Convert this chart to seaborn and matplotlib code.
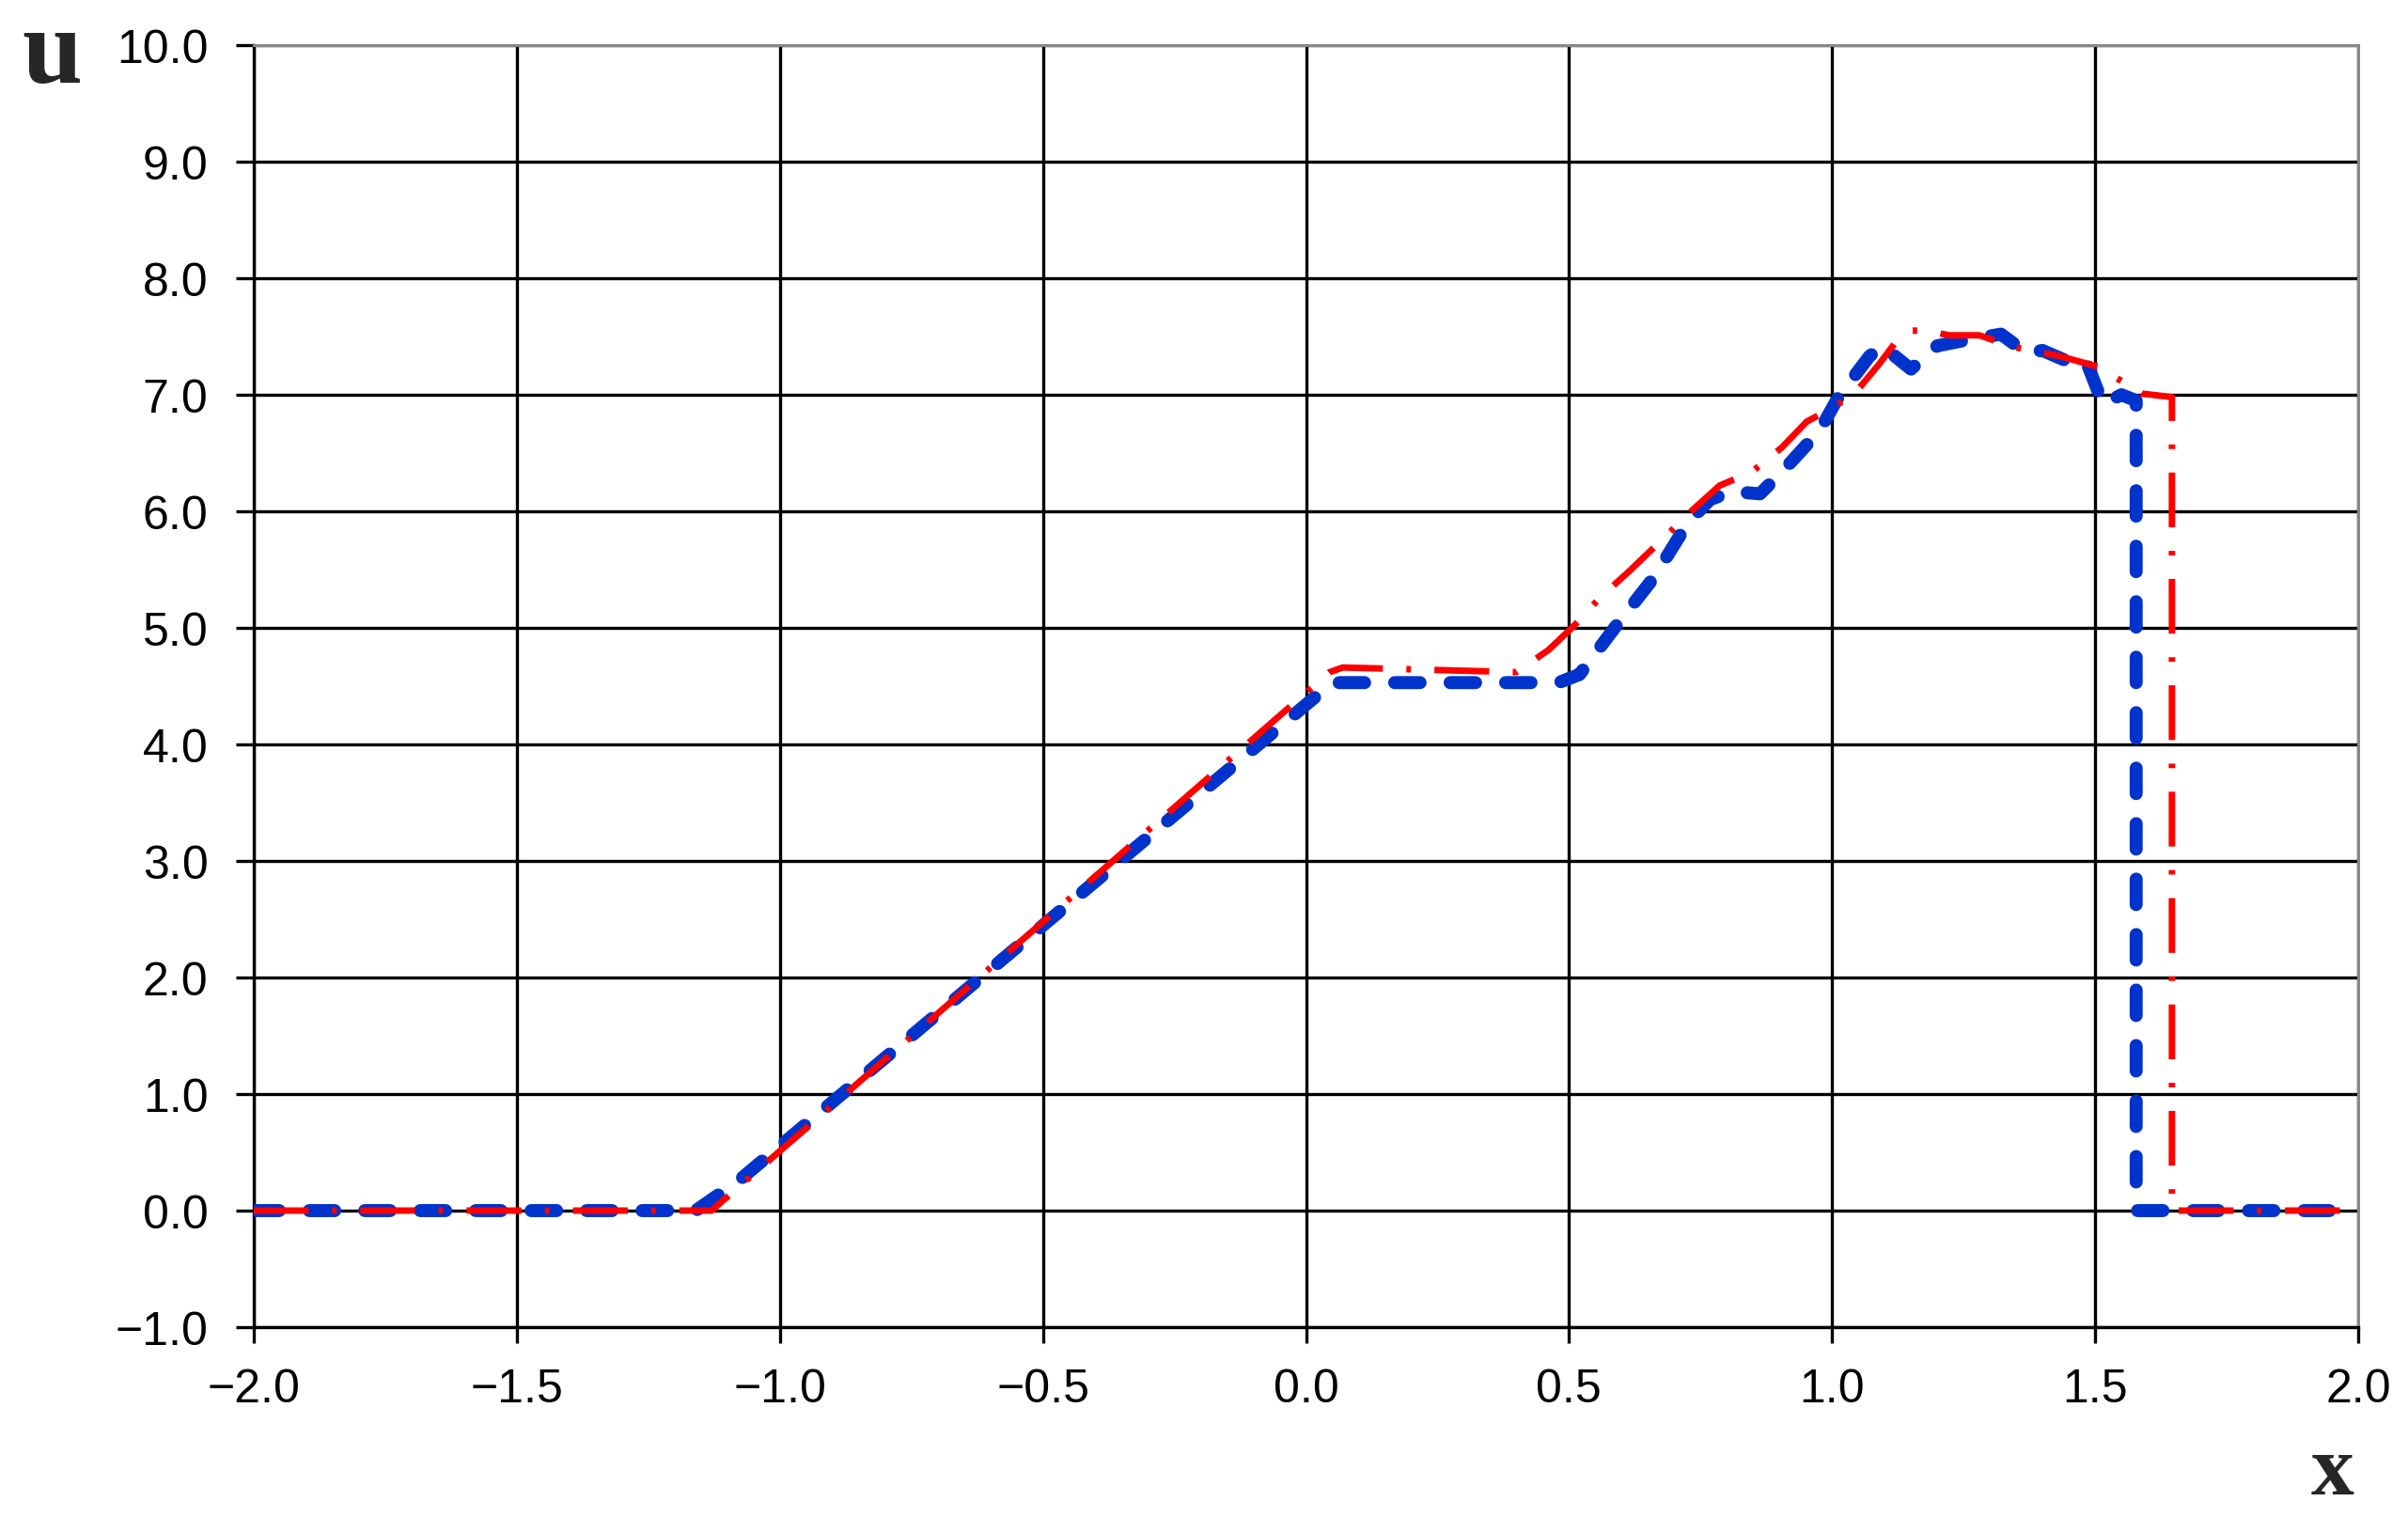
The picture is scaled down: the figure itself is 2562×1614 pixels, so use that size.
import matplotlib
matplotlib.use("Agg")
import matplotlib.pyplot as plt
from matplotlib.ticker import FixedLocator, FixedFormatter
import pandas as pd
import seaborn as sns

# numerical solution (blue, thick dashed)
x_num = [-2.0, -1.16, -1.08, 0.05, 0.48, 0.52, 0.595, 0.661, 0.727, 0.768,
         0.809, 0.863, 0.905, 0.976, 1.012, 1.071, 1.095, 1.15, 1.20, 1.256,
         1.321, 1.369, 1.40, 1.446, 1.482, 1.515, 1.55, 1.578, 1.578, 2.0]
u_num = [0.0, 0.0, 0.25, 4.53, 4.53, 4.60, 5.05, 5.43, 5.91, 6.10,
         6.17, 6.15, 6.34, 6.69, 6.98, 7.33, 7.42, 7.22, 7.42, 7.47,
         7.52, 7.36, 7.38, 7.29, 7.30, 6.92, 7.00, 6.95, 0.0, 0.0]

# reference solution (red, dash-dot)
x_ref = [-2.0, -1.13, 0.045, 0.07, 0.40, 0.461, 0.51, 0.559, 0.613, 0.68,
         0.732, 0.786, 0.848, 0.905, 0.952, 0.985, 1.041, 1.089, 1.119, 1.149,
         1.179, 1.223, 1.28, 1.345, 1.434, 1.506, 1.589, 1.646, 1.646, 2.0]
u_ref = [0.0, 0.0, 4.62, 4.66, 4.62, 4.81, 5.02, 5.26, 5.48, 5.77,
         6.00, 6.22, 6.34, 6.55, 6.77, 6.85, 7.00, 7.26, 7.44, 7.55,
         7.55, 7.51, 7.51, 7.41, 7.33, 7.24, 7.01, 6.98, 0.0, 0.0]

x_ticks = [-2.0, -1.5, -1.0, -0.5, 0.0, 0.5, 1.0, 1.5, 2.0]
y_ticks = [-1.0, 0.0, 1.0, 2.0, 3.0, 4.0, 5.0, 6.0, 7.0, 8.0, 9.0, 10.0]
x_labels = ["\u22122.0", "\u22121.5", "\u22121.0", "\u22120.5", "0.0", "0.5", "1.0", "1.5", "2.0"]
y_labels = ["\u22121.0", "0.0", "1.0", "2.0", "3.0", "4.0", "5.0", "6.0", "7.0", "8.0", "9.0", "10.0"]

sns.set_theme(style="ticks")
plt.rcParams["font.family"] = ["Liberation Sans", "DejaVu Sans"]

fig = plt.figure(figsize=(25.62, 16.15), dpi=100)
ax = fig.add_axes([0.10539, 0.12508, 0.97931 - 0.10539, 0.96966 - 0.12508])

df_num = pd.DataFrame({"x": x_num, "u": u_num})
df_ref = pd.DataFrame({"x": x_ref, "u": u_ref})

sns.lineplot(data=df_num, x="x", y="u", sort=False, estimator=None, ax=ax,
             color="#0033cc", linewidth=10, linestyle=(0, (1.95, 2.3)),
             dash_capstyle="round", zorder=3)
sns.lineplot(data=df_ref, x="x", y="u", sort=False, estimator=None, ax=ax,
             color="#ff0000", linewidth=5, linestyle=(0, (8.4, 3.6, 0.7, 3.6)),
             zorder=4)

ax.set_xlim(-2.0, 2.0)
ax.set_ylim(-1.0, 10.0)
ax.xaxis.set_major_locator(FixedLocator(x_ticks))
ax.xaxis.set_major_formatter(FixedFormatter(x_labels))
ax.yaxis.set_major_locator(FixedLocator(y_ticks))
ax.yaxis.set_major_formatter(FixedFormatter(y_labels))
ax.set_xlabel("")
ax.set_ylabel("")

ax.grid(True, color="black", linewidth=2.4)
ax.set_axisbelow(True)
for side in ["left", "bottom"]:
    ax.spines[side].set_color("black")
    ax.spines[side].set_linewidth(2.4)
for side in ["top", "right"]:
    ax.spines[side].set_visible(True)
    ax.spines[side].set_color("#888888")
    ax.spines[side].set_linewidth(2.2)

ax.tick_params(axis="x", direction="out", length=12, width=2.4, color="black",
               pad=19, labelsize=36, labelcolor="black")
ax.tick_params(axis="y", direction="out", length=14, width=2.4, color="black",
               pad=21, labelsize=36, labelcolor="black")

fig.text(55 / 2562, 1 - 88 / 1615, "u", ha="center", va="baseline",
         fontsize=83, fontweight="bold", family=["Liberation Serif", "DejaVu Serif"])
fig.text(2482 / 2562, 1 - 1590 / 1615, "x", ha="center", va="baseline",
         fontsize=66, fontweight="bold", family=["Liberation Serif", "DejaVu Serif"])

fig.savefig("out.png", dpi=100)
